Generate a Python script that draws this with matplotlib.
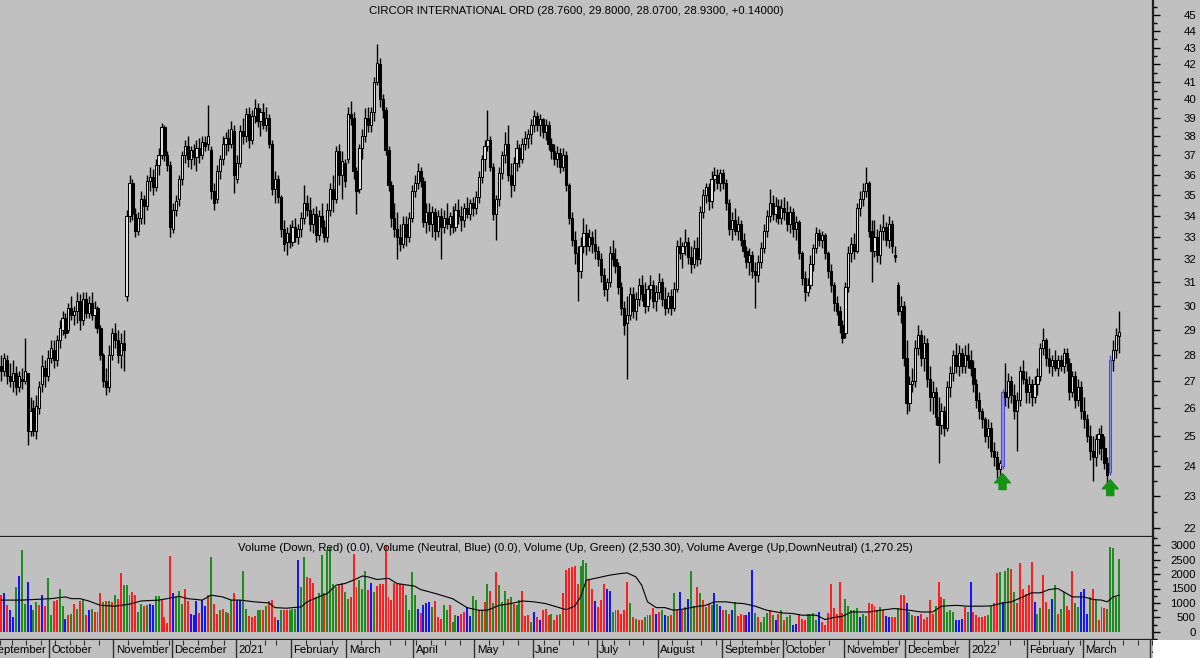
import matplotlib
matplotlib.use("Agg")
import matplotlib.pyplot as plt
import matplotlib.ticker as mticker
from matplotlib.patches import Rectangle
import numpy as np
import pandas as pd

plt.rcParams['font.family'] = ['Liberation Sans', 'DejaVu Sans']

title = "CIRCOR INTERNATIONAL ORD (28.7600, 29.8000, 28.0700, 28.9300, +0.14000)"
vol_title = ("Volume (Down, Red) (0.0), Volume (Neutral, Blue) (0.0), "
             "Volume (Up, Green) (2,530.30), Volume Averge (Up,DownNeutral) (1,270.25)")

# trading calendar
nyse_holidays = ['2020-09-07', '2020-11-26', '2020-12-25', '2021-01-01', '2021-01-18',
                 '2021-02-15', '2021-04-02', '2021-05-31', '2021-07-05', '2021-09-06',
                 '2021-11-25', '2021-12-24', '2022-01-17', '2022-02-21', '2022-04-15']
first_day = '2020-09-08'
last_day = '2022-03-17'

# daily OHLC
opens = [
    27.6, 27.4, 27.8, 27.2, 27.0, 27.3, 26.8, 27.1, 27.0, 27.3, 25.2, 26.0, 25.2, 26.0, 26.9, 27.5, 27.2,
    27.9, 28.2, 27.8, 28.6, 29.0, 29.5, 29.0, 29.9, 29.6, 29.8, 30.2, 29.4, 30.3, 29.7, 30.1, 29.6, 29.9, 29.1, 28.0, 27.0, 26.8, 28.0,
    28.9, 28.6, 28.0, 28.5, 30.4, 34.0, 35.6, 34.1, 33.3, 33.9, 34.8, 34.5, 35.7, 35.9, 35.4, 36.5, 37.0, 38.5, 37.0, 36.5,
    33.4, 34.3, 34.8, 35.8, 37.0, 37.5, 36.8, 37.3, 36.9, 37.4, 37.0, 37.7, 37.6, 37.3, 35.2, 34.8, 36.2, 36.8, 37.6, 37.9, 37.6, 38.3,
    35.8, 36.6, 38.3, 38.0, 39.2, 37.8, 39.1, 39.5, 38.8, 39.3, 38.6, 39.0, 37.6, 35.3, 35.8, 34.9, 33.4, 32.8, 33.2,
    32.8, 33.5, 33.0, 33.4, 33.9, 34.6, 34.3, 33.6, 34.1, 33.1, 34.0, 33.5, 33.0, 34.3, 35.3, 34.8, 37.2, 36.0, 36.6,
    36.8, 39.2, 39.0, 36.2, 35.3, 37.4, 38.0, 39.0, 38.6, 39.3, 41.0, 42.0, 40.0, 39.4, 37.3, 35.5, 33.9, 33.4, 33.0, 32.7, 33.6, 33.0, 33.9,
    35.2, 35.6, 36.2, 35.7, 33.7, 34.2, 33.6, 34.2, 33.3, 34.0, 33.5, 33.9, 33.6, 34.0, 33.5, 34.3, 34.0, 33.8, 34.4, 34.1, 34.6,
    34.4, 34.9, 35.9, 36.8, 37.5, 37.8, 36.4, 34.1, 34.8, 36.1, 37.0, 37.6, 36.0, 35.5, 36.6, 37.4, 36.8, 37.6, 37.9, 38.1,
    38.6, 39.1, 38.6, 38.9, 38.2, 38.6, 37.6, 37.2, 36.8, 37.1, 36.4, 37.0, 35.5, 33.9, 32.9, 32.3, 31.5, 32.6, 33.2, 32.6, 33.0, 32.7,
    32.4, 32.0, 31.3, 30.7, 31.0, 32.3, 32.0, 31.7, 30.8, 29.9, 29.3, 29.6, 30.5, 29.8, 30.3, 30.9, 30.5, 30.0, 30.7, 30.9, 30.2,
    30.6, 31.0, 30.3, 29.9, 30.4, 29.9, 30.7, 32.6, 32.3, 32.6, 32.8, 32.1, 31.8, 32.5, 32.0, 34.2, 35.0, 35.4, 34.7, 35.8, 36.0, 35.6,
    36.1, 35.6, 34.6, 33.4, 33.8, 33.3, 33.6, 32.9, 32.4, 31.9, 32.2, 31.5, 31.3, 31.9, 32.5, 33.3, 34.0, 34.6, 34.1, 34.5, 33.9,
    34.4, 34.2, 33.6, 34.2, 33.4, 33.7, 32.3, 31.2, 30.6, 30.9, 31.8, 32.5, 33.2, 32.9, 33.1, 32.3, 31.5, 30.9, 30.1, 29.8, 29.2,
    28.9, 30.8, 32.3, 32.7, 32.4, 34.4, 34.8, 35.2, 35.6, 33.3, 32.4, 33.0, 32.2, 33.3, 33.5, 32.9, 33.6, 32.2, 30.9, 29.8, 30.0,
    27.9, 26.2, 26.9, 27.0, 28.3, 28.8, 27.9, 28.5, 27.1, 26.4, 26.6, 25.7, 25.4, 25.9, 25.3, 26.8, 27.3, 28.0, 27.6, 28.1, 27.6, 28.0,
    27.8, 27.5, 26.9, 26.3, 25.9, 25.6, 25.0, 25.3, 24.5, 24.3, 23.9, 24.0, 26.6, 26.4, 27.0, 26.5, 25.9, 26.3, 27.4, 27.1,
    26.6, 26.9, 26.4, 26.9, 27.2, 28.3, 28.6, 27.9, 27.6, 27.8, 27.5, 27.8, 27.6, 28.1, 27.7, 26.6, 27.2, 26.3, 26.8,
    25.9, 25.6, 25.0, 24.5, 24.3, 24.9, 25.1, 24.6, 24.1, 23.8, 27.8, 28.2, 28.76,
]
highs = [
    28.0, 28.1, 28.0, 27.7, 27.8, 27.6, 27.4, 27.5, 28.7, 27.3, 26.4, 26.3, 26.5, 27.0, 28.0, 27.8, 28.2,
    28.6, 28.6, 28.8, 29.4, 29.8, 29.7, 30.1, 30.4, 30.0, 30.6, 30.5, 30.6, 30.6, 30.4, 30.6, 30.2, 30.0, 29.2, 28.1, 27.5, 28.4, 29.1,
    29.3, 29.0, 28.9, 29.0, 34.3, 36.0, 35.8, 34.4, 34.2, 35.2, 35.0, 36.0, 36.4, 36.3, 36.8, 37.4, 38.7, 38.6, 37.2, 36.7,
    34.6, 35.0, 36.0, 37.2, 37.8, 38.0, 37.5, 37.6, 37.8, 37.9, 38.0, 38.0, 39.7, 37.5, 35.6, 36.5, 37.0, 38.0, 38.2, 38.4, 38.8, 38.6,
    37.0, 38.6, 39.0, 39.5, 39.6, 39.4, 40.0, 39.8, 39.5, 39.8, 39.6, 39.2, 37.8, 36.2, 36.0, 35.0, 33.8, 33.5, 33.6,
    33.8, 33.9, 33.6, 34.2, 35.5, 35.0, 34.9, 34.4, 34.5, 34.3, 34.6, 33.8, 34.6, 35.6, 36.0, 37.5, 37.6, 37.2, 36.8,
    39.6, 39.9, 39.3, 36.4, 37.6, 38.4, 39.5, 39.6, 39.6, 41.3, 43.2, 42.4, 40.3, 39.6, 37.5, 35.7, 34.6, 34.2, 33.6, 34.0, 34.0, 34.2, 35.5,
    36.0, 36.6, 36.4, 35.9, 34.6, 34.6, 34.5, 34.4, 34.3, 34.4, 34.3, 34.6, 34.2, 34.5, 34.6, 34.8, 34.5, 34.6, 34.9, 34.8, 34.9,
    35.2, 36.2, 37.0, 37.8, 39.4, 38.0, 36.6, 35.0, 36.4, 37.2, 38.2, 38.6, 36.6, 36.9, 37.8, 37.6, 37.9, 38.3, 38.4, 38.9,
    39.4, 39.3, 39.2, 39.0, 38.9, 38.8, 37.9, 37.6, 37.5, 37.4, 37.4, 37.2, 35.6, 34.2, 33.3, 32.6, 33.0, 33.9, 33.6, 33.4, 33.3, 33.4,
    32.6, 32.3, 31.6, 31.2, 32.6, 32.9, 32.5, 31.9, 31.0, 30.2, 30.4, 30.8, 30.8, 30.6, 31.2, 31.3, 31.0, 30.9, 31.3, 31.1, 30.9,
    31.4, 31.2, 30.8, 30.6, 30.7, 31.0, 32.9, 33.0, 32.8, 33.4, 33.0, 32.6, 32.9, 33.0, 34.5, 35.3, 35.6, 35.6, 36.2, 36.4, 36.3, 36.3,
    36.3, 35.8, 34.8, 34.2, 34.4, 34.0, 33.8, 33.2, 32.6, 32.5, 32.4, 31.9, 32.2, 32.8, 33.6, 34.3, 35.3, 35.0, 34.9, 34.8, 34.8,
    34.9, 34.7, 34.5, 34.4, 34.0, 33.8, 32.4, 31.5, 31.2, 32.2, 32.7, 33.5, 33.4, 33.3, 33.2, 32.4, 31.8, 31.0, 30.4, 30.0, 29.4,
    31.0, 32.6, 33.0, 33.2, 34.6, 35.2, 35.6, 36.4, 35.7, 33.8, 33.8, 33.4, 33.6, 34.1, 33.7, 34.0, 33.8, 32.6, 31.0, 30.4, 30.2,
    28.6, 27.2, 27.5, 28.6, 29.2, 29.0, 28.8, 28.7, 27.6, 27.0, 26.8, 26.4, 26.2, 26.1, 27.0, 27.6, 28.2, 28.5, 28.4, 28.3, 28.4, 28.5,
    28.2, 27.8, 27.1, 26.6, 26.0, 25.7, 25.6, 25.5, 24.8, 24.5, 24.2, 26.7, 27.7, 27.3, 27.2, 26.9, 26.6, 27.6, 27.8, 27.4,
    27.2, 27.1, 27.2, 27.5, 28.5, 29.1, 28.7, 28.3, 28.0, 28.2, 28.0, 28.0, 28.3, 28.3, 27.9, 27.4, 27.4, 27.1, 27.0,
    26.4, 25.8, 25.4, 25.0, 25.1, 25.3, 25.4, 25.0, 24.3, 28.0, 28.6, 29.1, 29.8,
]
lows = [
    27.0, 27.2, 26.9, 26.8, 26.6, 26.5, 26.6, 26.7, 26.9, 24.7, 25.0, 25.0, 24.9, 25.8, 26.6, 26.8, 27.0,
    27.7, 27.5, 27.6, 28.3, 28.8, 28.7, 28.9, 29.4, 29.2, 29.3, 29.0, 29.2, 29.5, 29.5, 29.4, 29.1, 28.9, 27.8, 26.8, 26.5, 26.6, 27.8,
    28.3, 27.7, 27.5, 27.4, 30.2, 33.7, 33.8, 33.0, 33.1, 33.6, 33.6, 34.3, 35.2, 35.0, 35.2, 36.0, 36.8, 36.7, 36.2, 33.0,
    33.2, 34.0, 34.5, 35.5, 36.6, 36.4, 36.3, 36.5, 36.2, 36.6, 36.8, 37.2, 37.3, 34.8, 34.3, 34.6, 35.8, 36.5, 37.0, 37.2, 37.4, 35.1,
    35.6, 36.4, 37.6, 37.7, 37.4, 37.6, 38.7, 38.5, 38.0, 38.4, 38.3, 37.4, 35.0, 34.6, 34.6, 33.0, 32.4, 32.2, 32.5,
    32.6, 32.8, 32.7, 33.0, 33.6, 34.0, 33.3, 33.2, 32.8, 32.9, 33.2, 32.8, 32.8, 34.0, 34.2, 34.6, 35.5, 34.8, 35.4,
    36.6, 38.6, 35.8, 34.1, 35.1, 36.8, 37.7, 38.2, 38.2, 38.8, 40.8, 39.6, 39.0, 37.0, 35.2, 33.5, 33.0, 32.0, 32.4, 32.5, 32.6, 32.8, 33.7,
    34.9, 35.3, 35.4, 33.5, 33.2, 33.3, 33.0, 32.9, 33.0, 32.0, 33.2, 33.4, 33.1, 33.2, 33.3, 33.6, 33.3, 33.5, 33.9, 33.8, 34.0,
    34.1, 34.6, 35.6, 36.2, 37.2, 36.2, 33.8, 32.9, 34.5, 35.8, 36.6, 35.7, 34.9, 35.2, 36.2, 36.4, 36.6, 37.3, 37.4, 37.6,
    38.2, 38.3, 38.0, 37.9, 37.8, 37.3, 36.8, 36.5, 36.4, 36.1, 36.2, 35.2, 33.6, 32.6, 31.8, 30.2, 31.2, 32.3, 32.2, 32.4, 32.3, 32.0,
    31.7, 31.0, 30.4, 30.2, 30.8, 31.7, 31.4, 30.5, 29.6, 28.8, 27.1, 29.4, 29.5, 29.4, 30.0, 30.2, 29.7, 29.8, 30.3, 29.9, 29.8,
    30.3, 30.0, 29.6, 29.7, 29.6, 29.8, 30.6, 32.0, 31.6, 32.2, 31.8, 31.4, 31.6, 31.7, 31.8, 33.9, 34.6, 34.3, 34.4, 35.2, 35.3, 35.2,
    35.3, 34.3, 33.1, 32.9, 33.1, 32.9, 32.6, 32.1, 31.6, 31.3, 31.2, 29.9, 31.0, 31.6, 32.3, 33.0, 33.7, 33.8, 33.7, 33.6, 33.6,
    33.8, 33.3, 33.2, 33.0, 32.9, 32.0, 30.9, 30.2, 30.4, 30.7, 31.5, 32.3, 32.6, 32.5, 32.0, 31.2, 30.6, 29.8, 29.6, 28.9, 28.5,
    28.7, 30.6, 31.9, 32.0, 32.3, 34.0, 34.5, 34.9, 33.0, 31.0, 32.1, 31.9, 31.8, 32.9, 32.6, 32.5, 32.3, 31.9, 29.6, 29.3, 27.6,
    25.8, 25.9, 26.6, 26.8, 28.0, 27.6, 27.4, 26.8, 25.9, 25.8, 25.4, 24.1, 25.1, 25.0, 25.2, 26.4, 27.0, 27.3, 27.2, 27.3, 27.3, 27.5,
    27.2, 26.6, 26.0, 25.6, 25.3, 24.8, 24.6, 24.3, 24.0, 23.6, 23.4, 23.9, 26.1, 26.0, 26.2, 25.6, 24.5, 26.1, 26.9, 26.2,
    26.2, 26.1, 26.2, 26.5, 27.0, 28.0, 27.6, 27.3, 27.2, 27.4, 27.2, 27.4, 27.3, 27.4, 26.3, 26.4, 26.0, 26.1, 25.6,
    25.3, 24.8, 24.2, 23.5, 24.0, 24.4, 24.2, 23.9, 23.4, 23.7, 27.4, 27.9, 28.07,
]
closes = [
    27.4, 27.9, 27.2, 27.0, 27.3, 26.8, 27.2, 27.0, 27.4, 25.2, 25.9, 25.2, 26.1, 26.8, 27.6, 27.2, 27.9,
    28.3, 27.8, 28.6, 29.1, 29.5, 28.9, 29.9, 29.6, 29.8, 30.2, 29.4, 30.3, 29.7, 30.1, 29.6, 29.9, 29.1, 28.0, 27.0, 26.8, 28.0, 28.9,
    28.6, 28.0, 28.5, 28.2, 34.0, 35.6, 34.1, 33.3, 33.9, 34.8, 34.5, 35.7, 35.9, 35.4, 36.5, 37.0, 38.5, 37.0, 36.5, 33.5,
    34.3, 34.7, 35.8, 37.0, 37.5, 36.8, 37.3, 36.9, 37.4, 37.0, 37.7, 37.5, 38.0, 35.2, 34.6, 36.2, 36.8, 37.6, 37.9, 37.6, 38.4, 36.0,
    36.6, 38.3, 38.0, 39.2, 37.8, 39.1, 39.5, 38.8, 39.3, 38.6, 39.0, 37.6, 35.3, 35.8, 34.9, 33.4, 32.7, 33.2, 32.8,
    33.5, 33.0, 33.4, 33.9, 34.6, 34.3, 33.6, 34.1, 33.1, 34.0, 33.5, 33.0, 34.3, 35.3, 34.8, 37.2, 36.0, 36.7, 35.7,
    39.2, 39.0, 36.2, 35.2, 37.4, 38.0, 39.0, 38.6, 39.3, 41.0, 42.1, 40.0, 39.4, 37.3, 35.5, 33.9, 33.4, 33.0, 32.7, 33.6, 33.0, 33.9, 35.2,
    35.6, 36.2, 35.7, 33.7, 34.2, 33.6, 34.2, 33.3, 34.0, 33.5, 33.9, 33.6, 34.0, 33.5, 34.3, 34.0, 33.8, 34.4, 34.1, 34.6, 34.4,
    34.9, 35.9, 36.8, 37.5, 37.8, 36.4, 34.1, 34.8, 36.1, 37.0, 37.6, 36.0, 35.5, 36.6, 37.4, 36.8, 37.6, 37.9, 38.1, 38.6,
    39.1, 38.6, 38.9, 38.2, 38.6, 37.6, 37.2, 36.8, 37.1, 36.4, 37.0, 35.5, 33.9, 32.9, 32.3, 31.5, 32.6, 33.2, 32.6, 33.0, 32.7, 32.4,
    32.0, 31.3, 30.7, 31.0, 32.3, 32.0, 31.7, 30.8, 29.9, 29.2, 29.6, 30.5, 29.8, 30.3, 30.9, 30.5, 30.0, 30.7, 30.9, 30.2, 30.6,
    31.0, 30.3, 29.9, 30.4, 29.9, 30.7, 32.6, 32.3, 32.6, 32.8, 32.1, 31.8, 32.5, 32.0, 34.2, 35.0, 35.4, 34.7, 35.8, 36.0, 35.6, 36.1,
    35.6, 34.6, 33.4, 33.8, 33.3, 33.6, 32.9, 32.4, 31.9, 32.2, 31.5, 31.3, 31.9, 32.5, 33.3, 34.0, 34.6, 34.1, 34.5, 33.9, 34.4,
    34.2, 33.6, 34.2, 33.4, 33.7, 32.3, 31.2, 30.6, 30.9, 31.8, 32.5, 33.2, 32.9, 33.1, 32.3, 31.5, 30.9, 30.1, 29.8, 29.2, 28.7,
    30.8, 32.3, 32.7, 32.4, 34.4, 34.8, 35.2, 35.6, 33.3, 32.4, 33.0, 32.2, 33.3, 33.5, 32.9, 33.6, 32.6, 32.1, 29.8, 30.0, 27.9,
    26.2, 26.9, 27.0, 28.3, 28.8, 27.9, 28.5, 27.1, 26.4, 26.6, 25.7, 25.4, 25.9, 25.3, 26.8, 27.3, 28.0, 27.6, 28.1, 27.6, 28.0, 27.8,
    27.5, 26.9, 26.3, 25.9, 25.6, 25.0, 25.3, 24.5, 24.3, 23.9, 24.1, 26.6, 26.4, 27.0, 26.5, 25.9, 26.3, 27.4, 27.1, 26.6,
    26.9, 26.4, 26.9, 27.2, 28.3, 28.6, 27.9, 27.6, 27.8, 27.5, 27.8, 27.6, 28.1, 27.7, 26.6, 27.2, 26.3, 26.8, 25.9,
    25.6, 25.0, 24.5, 24.3, 24.9, 25.1, 24.6, 24.1, 23.7, 27.8, 28.2, 28.79, 28.93,
]

# bars drawn in blue with a buy arrow under them
signal_bars = [344, 381]

# volume and its colour: r = down, b = neutral, g = up
volumes = [
    1270, 1330, 920, 750, 520, 1560, 1930, 2830, 980, 1730, 920, 750, 1040, 920, 1270, 890, 1870, 580, 1060, 1100,
    1500, 890, 460, 580, 610, 960, 800, 1070, 1100, 580, 750, 810, 680, 680, 1330, 1040, 1070, 1060, 1040, 1290,
    1150, 2020, 1620, 1620, 1270, 1380, 1270, 690, 960, 890, 920, 960, 920, 1250, 1250, 1150, 520, 310, 2620, 1330,
    1210, 1420, 980, 1470, 1070, 630, 570, 1070, 660, 1100, 890, 1270, 2600, 960, 630, 750, 810, 690, 660, 1100,
    1330, 1100, 1100, 2110, 810, 540, 500, 540, 770, 770, 750, 890, 1060, 1100, 520, 400, 750, 770, 750, 770,
    810, 800, 2480, 1560, 2600, 1900, 1850, 1700, 1210, 1330, 2650, 1360, 2830, 2880, 1670, 1560, 1670, 1700, 1380, 1150,
    1210, 2680, 1560, 1810, 1470, 2090, 1440, 1700, 1380, 1580, 1670, 1670, 3000, 1210, 1100, 1700, 1650, 1670,
    1620, 1270, 750, 2080, 1270, 810, 660, 920, 1000, 1040, 870, 1070, 500, 460, 920, 750, 920, 350, 580, 540,
    630, 690, 870, 540, 1230, 1100, 750, 750, 1040, 1670, 1420, 1000, 2080, 1620, 1040, 1410, 1150, 1190, 980, 920,
    1100, 1410, 540, 600, 350, 690, 520, 400, 750, 810, 580, 630, 400, 580, 630, 1350, 2130, 2190, 2230, 2270,
    1670, 2270, 2500, 2370, 1790, 1500, 1070, 870, 1120, 1670, 1470, 1420, 690, 770, 770, 630, 770, 1730, 1000, 500,
    460, 400, 400, 500, 580, 580, 840, 610, 690, 750, 580, 540, 580, 1350, 750, 1380, 770, 870, 1150, 2100,
    890, 1560, 1330, 1120, 870, 980, 920, 1350, 960, 890, 770, 770, 630, 750, 1040, 540, 630, 580, 580, 690,
    2130, 660, 520, 350, 500, 660, 750, 580, 430, 630, 770, 430, 520, 580, 230, 290, 630,
    460, 400, 630, 630, 660, 400, 690, 350, 230, 660, 1640, 840, 630, 1710, 660, 1150, 890, 750, 770, 840,
    520, 630, 540, 1000, 960, 890, 770, 870, 750, 540, 520, 520, 500, 840, 1260, 1270, 1000, 690, 580, 540,
    540, 630, 460, 500, 1120, 630, 890, 1730, 1210, 1150, 690, 750, 690, 400, 400, 460, 870, 690, 1730, 690,
    580, 520, 500, 540, 580, 890, 1000, 2020, 2080, 1040, 2100, 2190, 2160, 1380, 1000, 2370, 1470, 1300, 1620, 2420,
    1040, 630, 840, 1960, 1040, 810, 1150, 1620, 630, 810, 1380, 890, 750, 2100, 1000, 870, 1380, 1500, 630, 1210,
    1500, 1100, 400, 870, 830, 810, 2940, 2880, 1210, 2530,
]
vol_dir = (
    "rbrbbgbggb" "bggrbrggrr" "ggbrgrgrgr" "bgrrrgrgrg" "rrgggrrggr" "gbbggrrrrb" "gggrrbbbrb"
    "brgrrgrgrg" "rbbggrrrgg" "rgrrrbgrrg" "ggbggrrrgg" "grggggrrgg" "rrrgggrbgr" "rrrrrrrr"
    "rggggbrbbb" "grrrggrggb" "rrbbggrgrg" "rgrgggrgrg" "grrrgbrbrr" "rgrrgrrrrr" "rgggrrbrrr"
    "bbgrrrrrgr" "grrgggrbrg" "bgrgrbrgbg" "grgrgrgbgb" "rgrbgrrrbb" "bgrgggrgbr" "grggbbr"
    "rrggggbrr" "r" "rrrrrggggg" "bggrrrggrb" "brrgrrbggr" "brrrrrgrrg" "gggbbbrgbr" "rrrrggrrgb"
    "ggrgrrrrrr" "bggrrgbgrg" "grrrggbbbg" "rgrrrggggg"
)

# volume average line, read at a few bars
avg_bar = [0, 7, 11, 17, 22, 24, 27, 30, 34, 39, 44, 48, 54, 57, 61, 64, 69, 72, 76, 79,
           82, 87, 92, 94, 98, 103, 105, 109, 112, 115, 118, 121, 124, 126, 129, 133, 136,
           142, 144, 149, 155, 160, 164, 167, 171, 175, 179, 183, 187, 190, 194, 197, 199, 201, 204, 209, 213,
           215, 218, 220, 222, 225, 228, 231, 235, 238, 242, 245, 249, 252, 255, 259, 263, 268, 272, 275,
           280, 283, 286, 289, 292, 298, 302, 307, 312, 316, 320, 323, 328, 332, 337, 340, 344, 347, 351, 354,
           357, 360, 363, 365, 368, 372, 375, 378, 380, 382, 384]
avg_val = [1100, 1100, 1120, 1150, 1210, 1150, 1150, 1070, 920, 890, 960, 1070, 1100, 1150, 1230, 1150, 1100, 1270, 1210, 1100,
           1100, 1040, 1000, 840, 820, 865, 1040, 1210, 1330, 1615, 1670, 1790, 1930, 1900, 1810, 1850, 1670,
           1580, 1465, 1330, 1150, 840, 750, 750, 920, 980, 1070, 1040, 980, 890, 770, 890, 1210, 1790, 1850, 1960, 2020,
           2040, 1900, 1615, 1040, 840, 840, 750, 800, 865, 920, 1040, 1040, 1000, 980, 890, 750, 660, 635, 580,
           580, 430, 500, 540, 690, 690, 750, 810, 750, 690, 690, 890, 920, 890, 890, 900, 1000, 1040, 1210, 1350,
           1350, 1465, 1500, 1385, 1210, 1210, 1120, 1100, 1040, 1210, 1270]

n = len(closes)
o = np.array(opens); h = np.array(highs); l = np.array(lows); c = np.array(closes)
x = np.arange(n)

BG = '#c0c0c0'
W, H = 1200, 658
RX = 1153
FS = 8.2
fig = plt.figure(figsize=(12, 6.58), dpi=100, facecolor=BG)
ax = fig.add_axes([0, 1 - 537 / H, RX / W, 537 / H])
axv = fig.add_axes([0, 1 - 640 / H, RX / W, 103 / H])
axd = fig.add_axes([0, 0, RX / W, 18 / H])
for a in (ax, axv, axd):
    a.set_facecolor(BG)
    a.set_xlim(-0.5, 395.7)
    for s in ('left', 'top'):
        a.spines[s].set_visible(False)

# candles
fills, edges = [], []
for i in range(n):
    if i in signal_bars:
        fills.append('#8c8cf0'); edges.append('#4a4ad8')
    elif c[i] >= o[i]:
        fills.append('#e8e8e8'); edges.append('black')
    else:
        fills.append('black'); edges.append('black')
ax.vlines(x, l, h, colors=edges, linewidth=1.0, zorder=2)
bottom = np.minimum(o, c)
height = np.maximum(np.abs(c - o), 0.04)
ax.bar(x, height, bottom=bottom, width=0.76, color=fills, edgecolor=edges, linewidth=0.75, zorder=3)

for i in signal_bars:
    ax.annotate('', xy=(i, l[i]), xytext=(0, -15), textcoords='offset points',
                arrowprops=dict(arrowstyle='simple,head_length=0.55,head_width=0.95,tail_width=0.42',
                                color='#139413', mutation_scale=12, shrinkA=0, shrinkB=3.5),
                zorder=5)

ax.set_yscale('log')
ax.set_ylim(21.73, 45.95)
ax.yaxis.tick_right()
ax.yaxis.set_major_locator(mticker.FixedLocator(list(range(22, 46))))
ax.yaxis.set_major_formatter(mticker.FormatStrFormatter('%d'))
ax.yaxis.set_minor_locator(mticker.FixedLocator(list(np.arange(21.5, 46.0, 1.0))))
ax.yaxis.set_minor_formatter(mticker.NullFormatter())
ax.tick_params(axis='y', which='major', length=5, width=1, pad=26, labelsize=FS, direction='out')
ax.tick_params(axis='y', which='minor', length=3, width=1, direction='out')
ax.tick_params(axis='x', which='both', bottom=False, labelbottom=False)
plt.setp(ax.get_yticklabels(), ha='right')

# volume
vcol = {'r': '#ff1e1e', 'g': '#1e8c1e', 'b': '#1414ff'}
axv.bar(x, volumes, width=0.68, color=[vcol[d] for d in vol_dir], linewidth=0, zorder=2)
axv.plot(avg_bar, avg_val, color='black', linewidth=0.8, zorder=3)
axv.set_ylim(-276, 3276)
axv.yaxis.tick_right()
axv.set_yticks(range(0, 3001, 500))
axv.set_yticks(range(-250, 3251, 250), minor=True)
axv.tick_params(axis='y', which='major', length=5, width=1, pad=26, labelsize=FS, direction='out')
axv.tick_params(axis='y', which='minor', length=3, width=1, direction='out')
axv.tick_params(axis='x', which='both', bottom=False, labelbottom=False)
plt.setp(axv.get_yticklabels(), ha='right')

for a in (ax, axv):
    a.spines['right'].set_linewidth(1.6)
    a.spines['right'].set_color('#202020')
    a.spines['bottom'].set_linewidth(1.6)
    a.spines['bottom'].set_color('#202020')

# date strip
full = pd.bdate_range('2020-09-01', '2022-04-29', freq='C', holidays=nyse_holidays)
pos = np.arange(len(full)) - full.get_loc(pd.Timestamp(first_day))
for k in range(len(full)):
    new_month = k == 0 or full[k].month != full[k - 1].month
    new_week = k > 0 and full[k].weekday() < full[k - 1].weekday()
    p = pos[k] - 0.5
    if new_month:
        axd.axvline(p, color='#303030', linewidth=1)
        label = str(full[k].year) if full[k].month == 1 else full[k].strftime('%B')
        axd.text(p + 0.8, 0.42, label, fontsize=FS, ha='left', va='center', clip_on=True)
    elif new_week:
        axd.vlines(p, 0.72, 1.0, color='#303030', linewidth=0.8)
axd.set_ylim(0, 1)
axd.set_xticks([]); axd.set_yticks([])
for s in ('right', 'bottom'):
    axd.spines[s].set_visible(False)

fig.patches.append(Rectangle((RX / W, 0), 1 - RX / W, 18 / H, transform=fig.transFigure,
                             facecolor='white', edgecolor='none', zorder=10))

fig.text(576 / W, 1 - 11 / H, title, ha='center', va='center', fontsize=FS)
fig.text(575 / W, 1 - 548 / H, vol_title, ha='center', va='center', fontsize=FS)

fig.savefig('out.png', dpi=100, facecolor=BG)
